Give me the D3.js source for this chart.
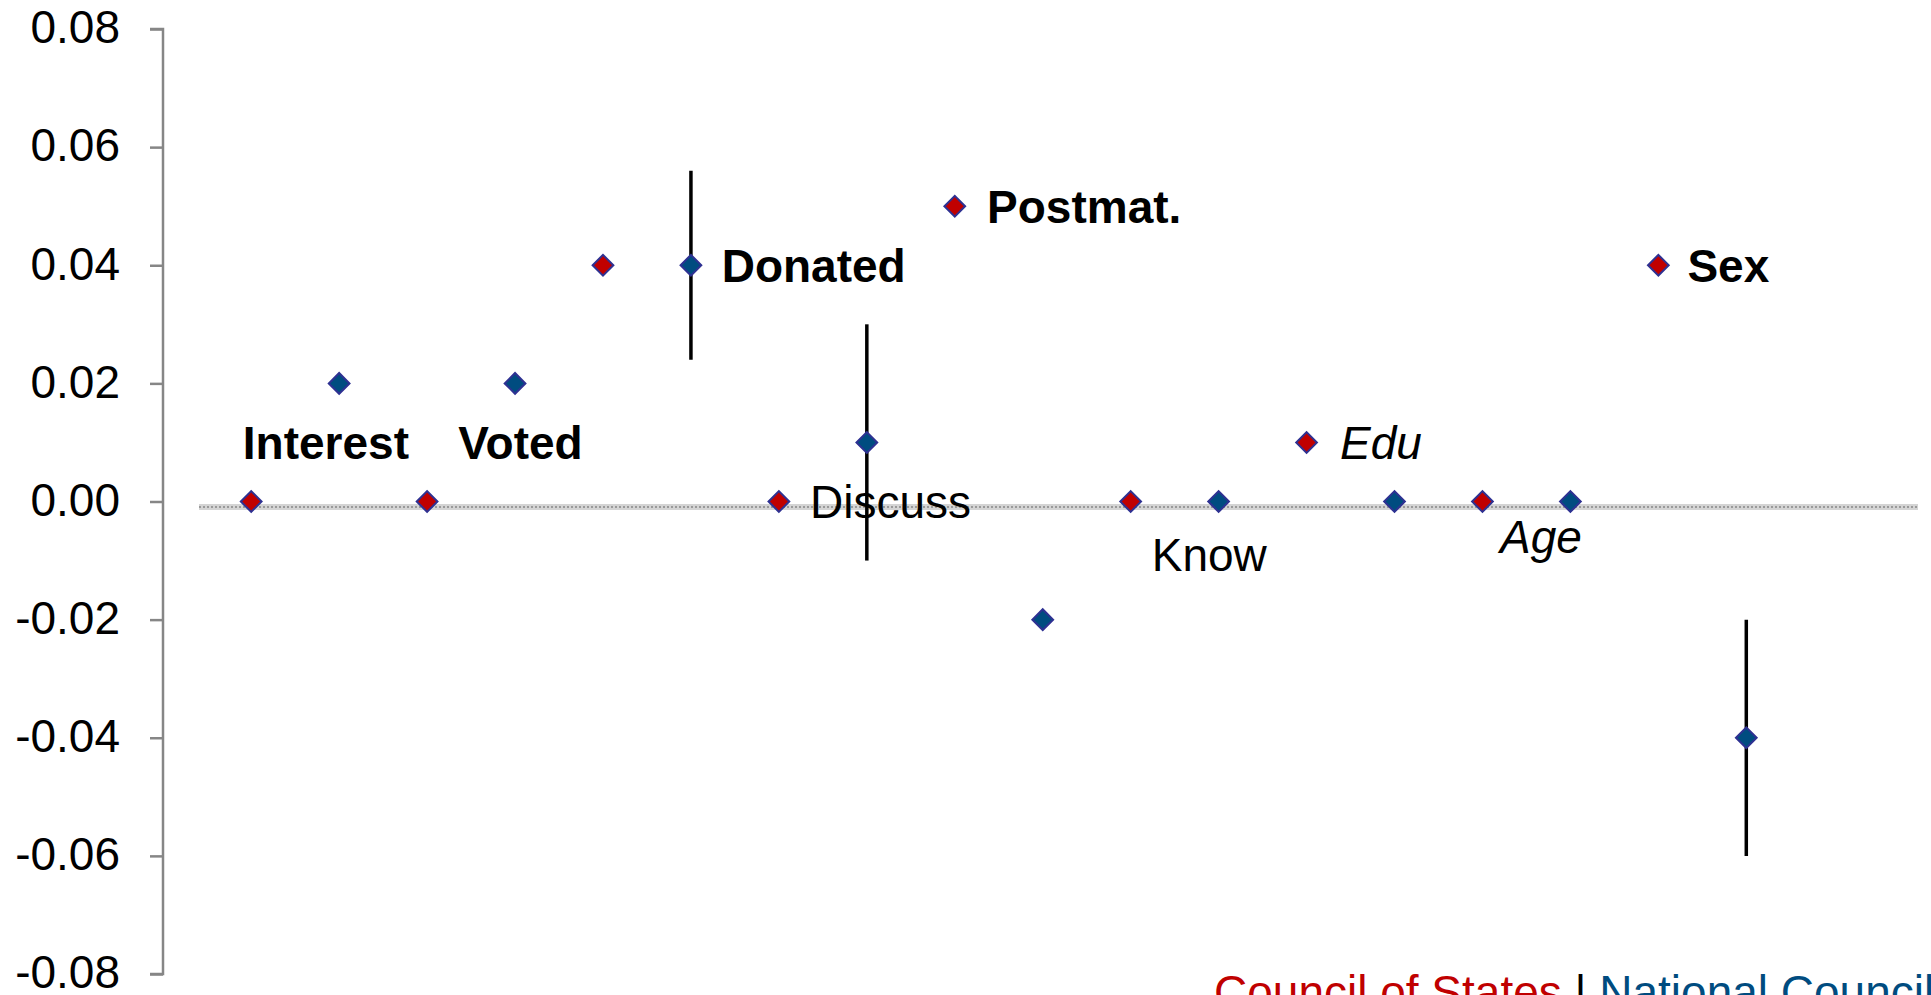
<!DOCTYPE html>
<html>
<head>
<meta charset="utf-8">
<script src="https://cdn.jsdelivr.net/npm/d3@7"></script>
<style>
  html, body { margin: 0; padding: 0; background: #fff; overflow: hidden; }
  svg { display: block; font-family: "Liberation Sans", Arial, sans-serif; }
</style>
</head>
<body>
<div id="chart"></div>
<script>
// effects per variable, one pair of markers (Council of States, National Council) each
const categories = ['Interest', 'Voted', 'Donated', 'Discuss', 'Postmat.', 'Know', 'Edu', 'Age', 'Sex']
const councilOfStates = [0, 0, 0.04, 0, 0.05, 0, 0.01, 0, 0.04]
const nationalCouncil = [0.02, 0.02, 0.04, 0.01, -0.02, 0, 0, 0, -0.04]
const nationalLow = [null, null, 0.024, -0.01, null, null, null, null, -0.06]
const nationalHigh = [null, null, 0.056, 0.03, null, null, null, null, -0.02]

// label anchor (slot index on x, value on y) and style for each category
const labelSlot = [-0.095, 2.355, 5.35, 6.354, 8.367, 10.24, 12.38, 14.2, 16.33]
const labelValue = [0.01, 0.01, 0.04, 0, 0.05, -0.009, 0.01, -0.006, 0.04]
const labelStyle = ['bold', 'bold', 'bold', 'normal', 'bold', 'normal', 'italic', 'italic', 'bold']

const yTickValues = [0.08, 0.06, 0.04, 0.02, 0, -0.02, -0.04, -0.06, -0.08]

const width = 1931
const height = 995
const fontSize = 46
const colors = {
  council: '#C00000',
  national: '#004C80',
  outline: '#2E3192',
  axis: '#868686'
}

const svg = d3.select('#chart')
  .append('svg')
  .attr('width', width)
  .attr('height', height)

const xScale = d3.scaleLinear()
  .domain([0, categories.length * 2 - 1])
  .range([251.2, 1746.3])

const yScale = d3.scaleLinear()
  .domain([-0.08, 0.08])
  .range([974, 29])

// y axis
const yAxis = d3.axisLeft(yScale)
  .tickValues(yTickValues)
  .tickFormat((d) => d.toFixed(2))
  .tickSize(13)
  .tickPadding(30)

const yAxisGroup = svg.append('g')
  .attr('transform', 'translate(163,0)')
  .call(yAxis)

yAxisGroup.select('.domain')
  .attr('d', `M-13,${yScale(0.08)}H0V${yScale(-0.08)}H-13`)
  .attr('stroke', colors.axis)
  .attr('stroke-width', 2.5)
yAxisGroup.selectAll('.tick line')
  .attr('stroke', colors.axis)
  .attr('stroke-width', 2.5)
yAxisGroup.selectAll('.tick text')
  .attr('fill', '#000')
  .attr('dy', '0.3em')
  .style('font-size', fontSize + 'px')
  .style('font-family', '"Liberation Sans", Arial, sans-serif')

// hatched zero line
const zeroY = yScale(0) + 5.5
svg.append('line')
  .attr('x1', 199).attr('x2', 1918)
  .attr('y1', zeroY).attr('y2', zeroY)
  .attr('stroke', '#d4d4d4')
  .attr('stroke-width', 6)
svg.append('line')
  .attr('x1', 199).attr('x2', 1918)
  .attr('y1', zeroY).attr('y2', zeroY)
  .attr('stroke', '#9a9a9a')
  .attr('stroke-width', 2)
  .attr('stroke-dasharray', '2,2')

// points
const points = []
categories.forEach((c, i) => {
  points.push({ slot: i * 2, value: councilOfStates[i], series: 'council' })
  points.push({ slot: i * 2 + 1, value: nationalCouncil[i], series: 'national', low: nationalLow[i], high: nationalHigh[i] })
})

// error bars
svg.append('g')
  .selectAll('line')
  .data(points.filter((d) => d.low !== null && d.low !== undefined))
  .enter()
  .append('line')
  .attr('x1', (d) => xScale(d.slot))
  .attr('x2', (d) => xScale(d.slot))
  .attr('y1', (d) => yScale(d.high))
  .attr('y2', (d) => yScale(d.low))
  .attr('stroke', '#000')
  .attr('stroke-width', 3.5)

const diamond = d3.symbol().type(d3.symbolSquare).size(215)

svg.append('g')
  .selectAll('path')
  .data(points)
  .enter()
  .append('path')
  .attr('d', diamond)
  .attr('transform', (d) => `translate(${xScale(d.slot)},${yScale(d.value)}) rotate(45)`)
  .attr('fill', (d) => colors[d.series])
  .attr('stroke', colors.outline)
  .attr('stroke-width', 2)

// category labels
svg.append('g')
  .selectAll('text')
  .data(categories)
  .enter()
  .append('text')
  .attr('x', (d, i) => xScale(labelSlot[i]))
  .attr('y', (d, i) => yScale(labelValue[i]))
  .attr('dy', '0.36em')
  .style('font-size', fontSize + 'px')
  .style('font-weight', (d, i) => labelStyle[i] === 'bold' ? 'bold' : 'normal')
  .style('font-style', (d, i) => labelStyle[i] === 'italic' ? 'italic' : 'normal')
  .attr('fill', '#000')
  .text((d) => d)

// legend, cut off by the bottom edge as in the original
const legend = svg.append('text')
  .attr('x', 1214)
  .attr('y', 1008)
  .style('font-size', fontSize + 'px')
legend.append('tspan').attr('fill', colors.council).text('Council of States')
legend.append('tspan').attr('fill', '#000').text(' | ')
legend.append('tspan').attr('fill', colors.national).text('National Council')
</script>
</body>
</html>
